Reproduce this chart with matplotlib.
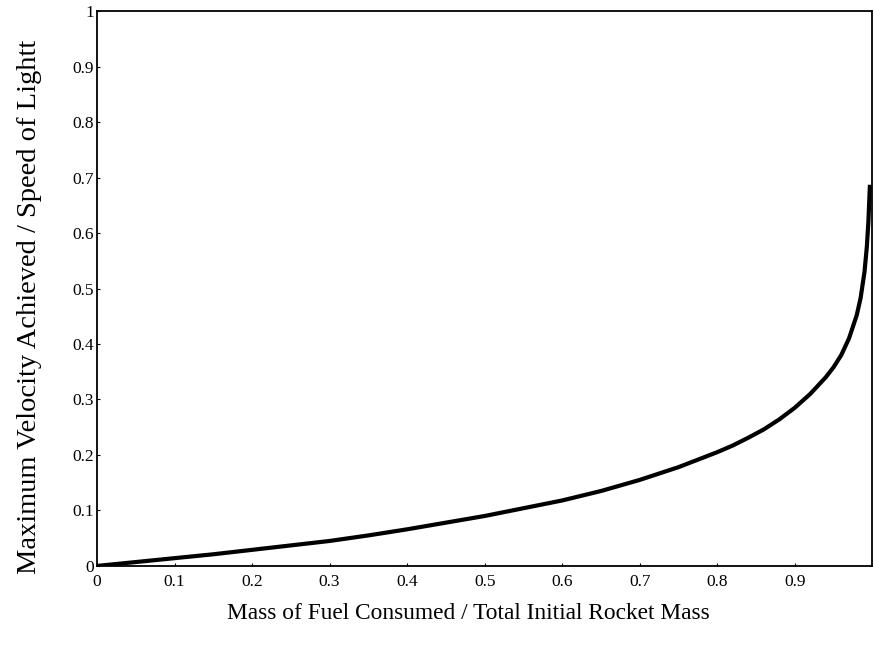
import matplotlib
matplotlib.use('Agg')
import matplotlib.pyplot as plt

# values
fuel_fraction = [0, 0.05, 0.1, 0.15, 0.2, 0.25, 0.3, 0.35, 0.4, 0.45, 0.5, 0.55, 0.6, 0.65,
                 0.7, 0.75, 0.8, 0.82, 0.84, 0.86, 0.88, 0.9, 0.92, 0.94, 0.95, 0.96,
                 0.97, 0.98, 0.985, 0.99, 0.993, 0.995, 0.997]
velocity = [0, 0.007, 0.014, 0.021, 0.029, 0.037, 0.045, 0.055, 0.066, 0.078, 0.09, 0.104,
            0.118, 0.135, 0.155, 0.178, 0.205, 0.217, 0.231, 0.246, 0.264, 0.285, 0.31,
            0.34, 0.358, 0.38, 0.41, 0.452, 0.483, 0.53, 0.575, 0.62, 0.687]

x_ticks = [0, 0.1, 0.2, 0.3, 0.4, 0.5, 0.6, 0.7, 0.8, 0.9]
x_tick_labels = ['0', '0.1', '0.2', '0.3', '0.4', '0.5', '0.6', '0.7', '0.8', '0.9']
y_ticks = [0, 0.1, 0.2, 0.3, 0.4, 0.5, 0.6, 0.7, 0.8, 0.9, 1]
y_tick_labels = ['0', '0.1', '0.2', '0.3', '0.4', '0.5', '0.6', '0.7', '0.8', '0.9', '1']

plt.rcParams['font.family'] = ['Liberation Serif', 'DejaVu Serif']

fig = plt.figure(figsize=(8.74, 6.52), dpi=100)
ax = fig.add_axes([0.111, 0.132, 0.887, 0.851])

ax.plot(fuel_fraction, velocity, color='black', linewidth=3,
        solid_capstyle='butt', solid_joinstyle='round')

ax.set_xlim(0, 1)
ax.set_ylim(0, 1)
ax.set_xticks(x_ticks)
ax.set_xticklabels(x_tick_labels)
ax.set_yticks(y_ticks)
ax.set_yticklabels(y_tick_labels)
ax.tick_params(axis='both', direction='in', length=2, width=0.8, labelsize=12.5)
ax.tick_params(axis='x', pad=6)
ax.tick_params(axis='y', pad=2)

for side in ax.spines.values():
    side.set_linewidth(1.3)

ax.set_xlabel('Mass of Fuel Consumed / Total Initial Rocket Mass', fontsize=16.8)
ax.set_ylabel('Maximum Velocity Achieved / Speed of Lightt', fontsize=20.5)
ax.xaxis.set_label_coords(0.479, -0.067)
ax.yaxis.set_label_coords(-0.0715, 0.467)

fig.savefig('out.png', dpi=100)
